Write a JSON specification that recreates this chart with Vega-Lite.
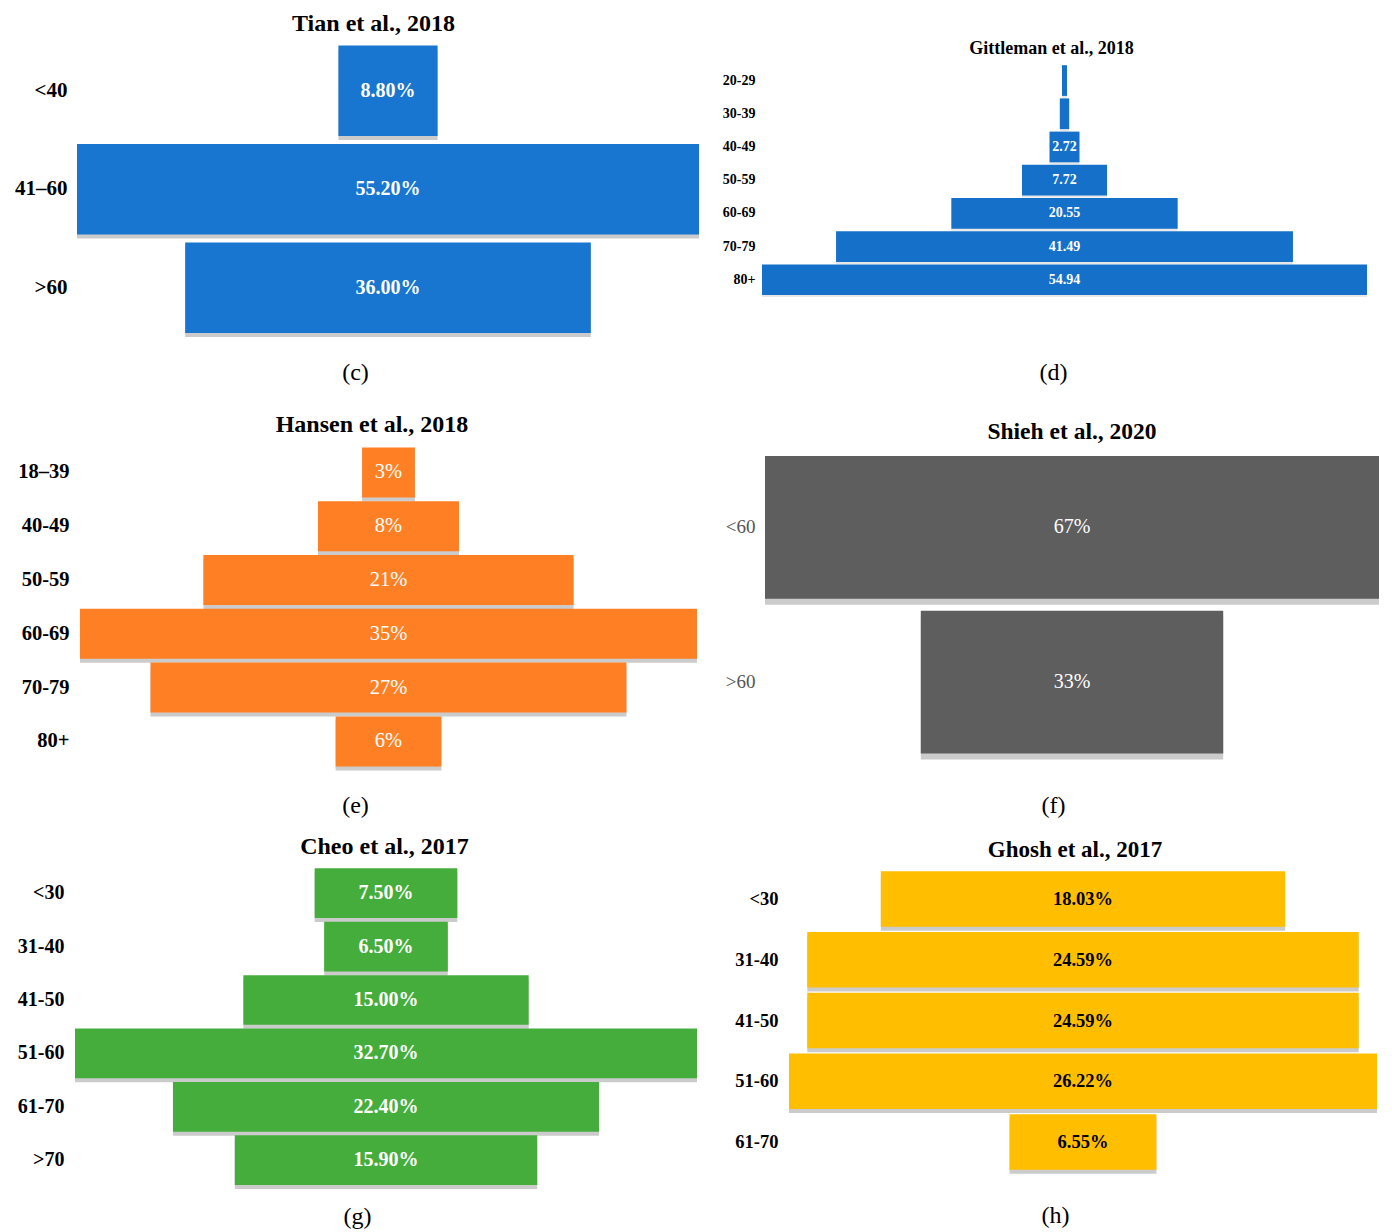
{
  "$schema": "https://vega.github.io/schema/vega-lite/v6.json",
  "background": "white",
  "padding": {"left": 0, "top": 11.5, "right": 0, "bottom": 0},
  "config": {
    "view": {"stroke": null},
    "font": "Liberation Serif",
    "axis": {"grid": false, "domain": false, "ticks": false, "labelFont": "Liberation Serif", "titleFont": "Liberation Serif", "labelColor": "black", "titleColor": "black"},
    "title": {"font": "Liberation Serif", "fontWeight": "bold", "color": "black", "anchor": "middle", "frame": "group"}
  },
  "spacing": 16,
  "hconcat": [
    {
      "spacing": 28,
      "vconcat": [
        {
          "width": 624, "height": 295.5,
          "title": {"text": "Tian et al., 2018", "fontSize": 24, "offset": 5.5, "dx": -13.5},
          "data": {"values": [
            {"age": "<40", "pct": 8.8, "label": "8.80%"},
            {"age": "41–60", "pct": 55.2, "label": "55.20%"},
            {"age": ">60", "pct": 36.0, "label": "36.00%"}
          ]},
          "encoding": {
            "y": {"field": "age", "type": "nominal", "sort": null, "scale": {"paddingInner": 0.08, "paddingOuter": 0.04},
                  "axis": {"title": null, "labelFontSize": 21, "labelFontWeight": "bold", "labelPadding": 8, "minExtent": 75, "maxExtent": 75}},
            "x": {"field": "pct", "type": "quantitative", "stack": "center", "scale": {"nice": false, "domain": [-0.1775, 55.2]},
                  "axis": {"title": "(c)", "labels": false, "titleFontSize": 24, "titleFontWeight": "normal", "titlePadding": 23, "titleX": 280}}
          },
          "layer": [
            {"mark": {"type": "bar", "color": "#A8A8A8", "opacity": 0.6, "yOffset": 4}},
            {"mark": {"type": "bar", "color": "#1876D0"}},
            {"mark": {"type": "text", "color": "white", "fontSize": 20, "fontWeight": "bold"},
             "encoding": {"x": {"field": "pct", "type": "quantitative", "stack": "center", "bandPosition": 0.5}, "text": {"field": "label"}}}
          ]
        },
        {
          "spacing": 16,
          "vconcat": [
            {
              "width": 622, "height": 322.8,
              "title": {"text": "Hansen et al., 2018", "fontSize": 24, "offset": 8.6, "dx": -14},
              "data": {"values": [
                {"age": "18–39", "pct": 3, "label": "3%"},
                {"age": "40-49", "pct": 8, "label": "8%"},
                {"age": "50-59", "pct": 21, "label": "21%"},
                {"age": "60-69", "pct": 35, "label": "35%"},
                {"age": "70-79", "pct": 27, "label": "27%"},
                {"age": "80+", "pct": 6, "label": "6%"}
              ]},
              "encoding": {
                "y": {"field": "age", "type": "nominal", "sort": null, "scale": {"paddingInner": 0.07, "paddingOuter": 0.035},
                      "axis": {"title": null, "labelFontSize": 20.5, "labelFontWeight": "bold", "labelPadding": 6, "minExtent": 75, "maxExtent": 75}},
                "x": {"field": "pct", "type": "quantitative", "stack": "center", "scale": {"nice": false, "domain": [-0.2836, 35]},
                      "axis": {"title": "(e)", "labels": false, "titleFontSize": 24, "titleFontWeight": "normal", "titlePadding": 25.6, "titleX": 280}}
              },
              "layer": [
                {"mark": {"type": "bar", "color": "#A8A8A8", "opacity": 0.6, "yOffset": 4}},
                {"mark": {"type": "bar", "color": "#FF8024"}},
                {"mark": {"type": "text", "color": "white", "fontSize": 20.5},
                 "encoding": {"x": {"field": "pct", "type": "quantitative", "stack": "center", "bandPosition": 0.5}, "text": {"field": "label"}}}
              ]
            },
            {
              "width": 622, "height": 320.4,
              "title": {"text": "Cheo et al., 2017", "fontSize": 24, "offset": 7.6, "dx": -1.5},
              "data": {"values": [
                {"age": "<30", "pct": 7.5, "label": "7.50%"},
                {"age": "31-40", "pct": 6.5, "label": "6.50%"},
                {"age": "41-50", "pct": 15.0, "label": "15.00%"},
                {"age": "51-60", "pct": 32.7, "label": "32.70%"},
                {"age": "61-70", "pct": 22.4, "label": "22.40%"},
                {"age": ">70", "pct": 15.9, "label": "15.90%"}
              ]},
              "encoding": {
                "y": {"field": "age", "type": "nominal", "sort": null, "scale": {"paddingInner": 0.07, "paddingOuter": 0.035},
                      "axis": {"title": null, "labelFontSize": 20, "labelFontWeight": "bold", "labelPadding": 11, "minExtent": 75, "maxExtent": 75}},
                "x": {"field": "pct", "type": "quantitative", "stack": "center", "scale": {"nice": false, "domain": [0, 32.7]},
                      "axis": {"title": "(g)", "labels": false, "titleFontSize": 24, "titleFontWeight": "normal", "titlePadding": 18, "titleX": 282}}
              },
              "layer": [
                {"mark": {"type": "bar", "color": "#A8A8A8", "opacity": 0.6, "yOffset": 4}},
                {"mark": {"type": "bar", "color": "#45AD3C"}},
                {"mark": {"type": "text", "color": "white", "fontSize": 20, "fontWeight": "bold"},
                 "encoding": {"x": {"field": "pct", "type": "quantitative", "stack": "center", "bandPosition": 0.5}, "text": {"field": "label"}}}
              ]
            }
          ]
        }
      ]
    },
    {
      "spacing": 34.2,
      "vconcat": [
        {
          "width": 605, "height": 256,
          "title": {"text": "Gittleman et al., 2018", "fontSize": 18, "offset": -16.4, "dx": -13},
          "data": {"values": [
            {"age": "20-29", "pct": 0.45, "label": ""},
            {"age": "30-39", "pct": 0.85, "label": ""},
            {"age": "40-49", "pct": 2.72, "label": "2.72"},
            {"age": "50-59", "pct": 7.72, "label": "7.72"},
            {"age": "60-69", "pct": 20.55, "label": "20.55"},
            {"age": "70-79", "pct": 41.49, "label": "41.49"},
            {"age": "80+", "pct": 54.94, "label": "54.94"}
          ]},
          "encoding": {
            "y": {"field": "age", "type": "nominal", "sort": null, "scale": {"paddingInner": 0.075, "paddingOuter": 0.393, "align": 0.908},
                  "axis": {"title": null, "labelFontSize": 14, "labelFontWeight": "bold", "labelPadding": 7, "minExtent": 47, "maxExtent": 47}},
            "x": {"field": "pct", "type": "quantitative", "stack": "center", "scale": {"nice": false, "domain": [0, 54.94]},
                  "axis": {"title": "(d)", "labels": false, "titleFontSize": 24, "titleFontWeight": "normal", "titlePadding": 62.5, "titleX": 291}}
          },
          "layer": [
            {"mark": {"type": "bar", "color": "#D0D0D0", "opacity": 0.5, "yOffset": 2}},
            {"mark": {"type": "bar", "color": "#1470C8"}},
            {"mark": {"type": "text", "color": "white", "fontSize": 14, "fontWeight": "bold"},
             "encoding": {"x": {"field": "pct", "type": "quantitative", "stack": "center", "bandPosition": 0.5}, "text": {"field": "label"}}}
          ]
        },
        {
          "spacing": 21,
          "vconcat": [
            {
              "width": 617, "height": 310,
              "title": {"text": "Shieh et al., 2020", "fontSize": 23.5, "offset": 6.6, "dx": 1.5},
              "data": {"values": [
                {"age": "<60", "pct": 67, "label": "67%"},
                {"age": ">60", "pct": 33, "label": "33%"}
              ]},
              "encoding": {
                "y": {"field": "age", "type": "nominal", "sort": null, "scale": {"paddingInner": 0.0774, "paddingOuter": 0.04},
                      "axis": {"title": null, "labelFontSize": 19, "labelColor": "#555555", "labelPadding": 7, "minExtent": 47, "maxExtent": 47}},
                "x": {"field": "pct", "type": "quantitative", "stack": "center", "scale": {"nice": false, "domain": [-0.3274, 67]},
                      "axis": {"title": "(f)", "labels": false, "titleFontSize": 24, "titleFontWeight": "normal", "titlePadding": 33.7, "titleX": 291}}
              },
              "layer": [
                {"mark": {"type": "bar", "color": "#A8A8A8", "opacity": 0.6, "yOffset": 6}},
                {"mark": {"type": "bar", "color": "#5E5E5E"}},
                {"mark": {"type": "text", "color": "white", "fontSize": 20},
                 "encoding": {"x": {"field": "pct", "type": "quantitative", "stack": "center", "bandPosition": 0.5}, "text": {"field": "label"}}}
              ]
            },
            {
              "width": 615, "height": 303.6,
              "title": {"text": "Ghosh et al., 2017", "fontSize": 23, "offset": 6.3, "dx": 5.5},
              "data": {"values": [
                {"age": "<30", "pct": 18.03, "label": "18.03%"},
                {"age": "31-40", "pct": 24.59, "label": "24.59%"},
                {"age": "41-50", "pct": 24.59, "label": "24.59%"},
                {"age": "51-60", "pct": 26.22, "label": "26.22%"},
                {"age": "61-70", "pct": 6.55, "label": "6.55%"}
              ]},
              "encoding": {
                "y": {"field": "age", "type": "nominal", "sort": null, "scale": {"paddingInner": 0.087, "paddingOuter": 0.04},
                      "axis": {"title": null, "labelFontSize": 18.5, "labelFontWeight": "bold", "labelPadding": -16, "minExtent": 47, "maxExtent": 47}},
                "x": {"field": "pct", "type": "quantitative", "stack": "center", "scale": {"nice": false, "domain": [-1.204, 26.22]},
                      "axis": {"title": "(h)", "labels": false, "titleFontSize": 24, "titleFontWeight": "normal", "titlePadding": 31.6, "titleX": 293}}
              },
              "layer": [
                {"mark": {"type": "bar", "color": "#A8A8A8", "opacity": 0.6, "yOffset": 4}},
                {"mark": {"type": "bar", "color": "#FFBF00"}},
                {"mark": {"type": "text", "color": "black", "fontSize": 18.5, "fontWeight": "bold"},
                 "encoding": {"x": {"field": "pct", "type": "quantitative", "stack": "center", "bandPosition": 0.5}, "text": {"field": "label"}}}
              ]
            }
          ]
        }
      ]
    }
  ]
}
